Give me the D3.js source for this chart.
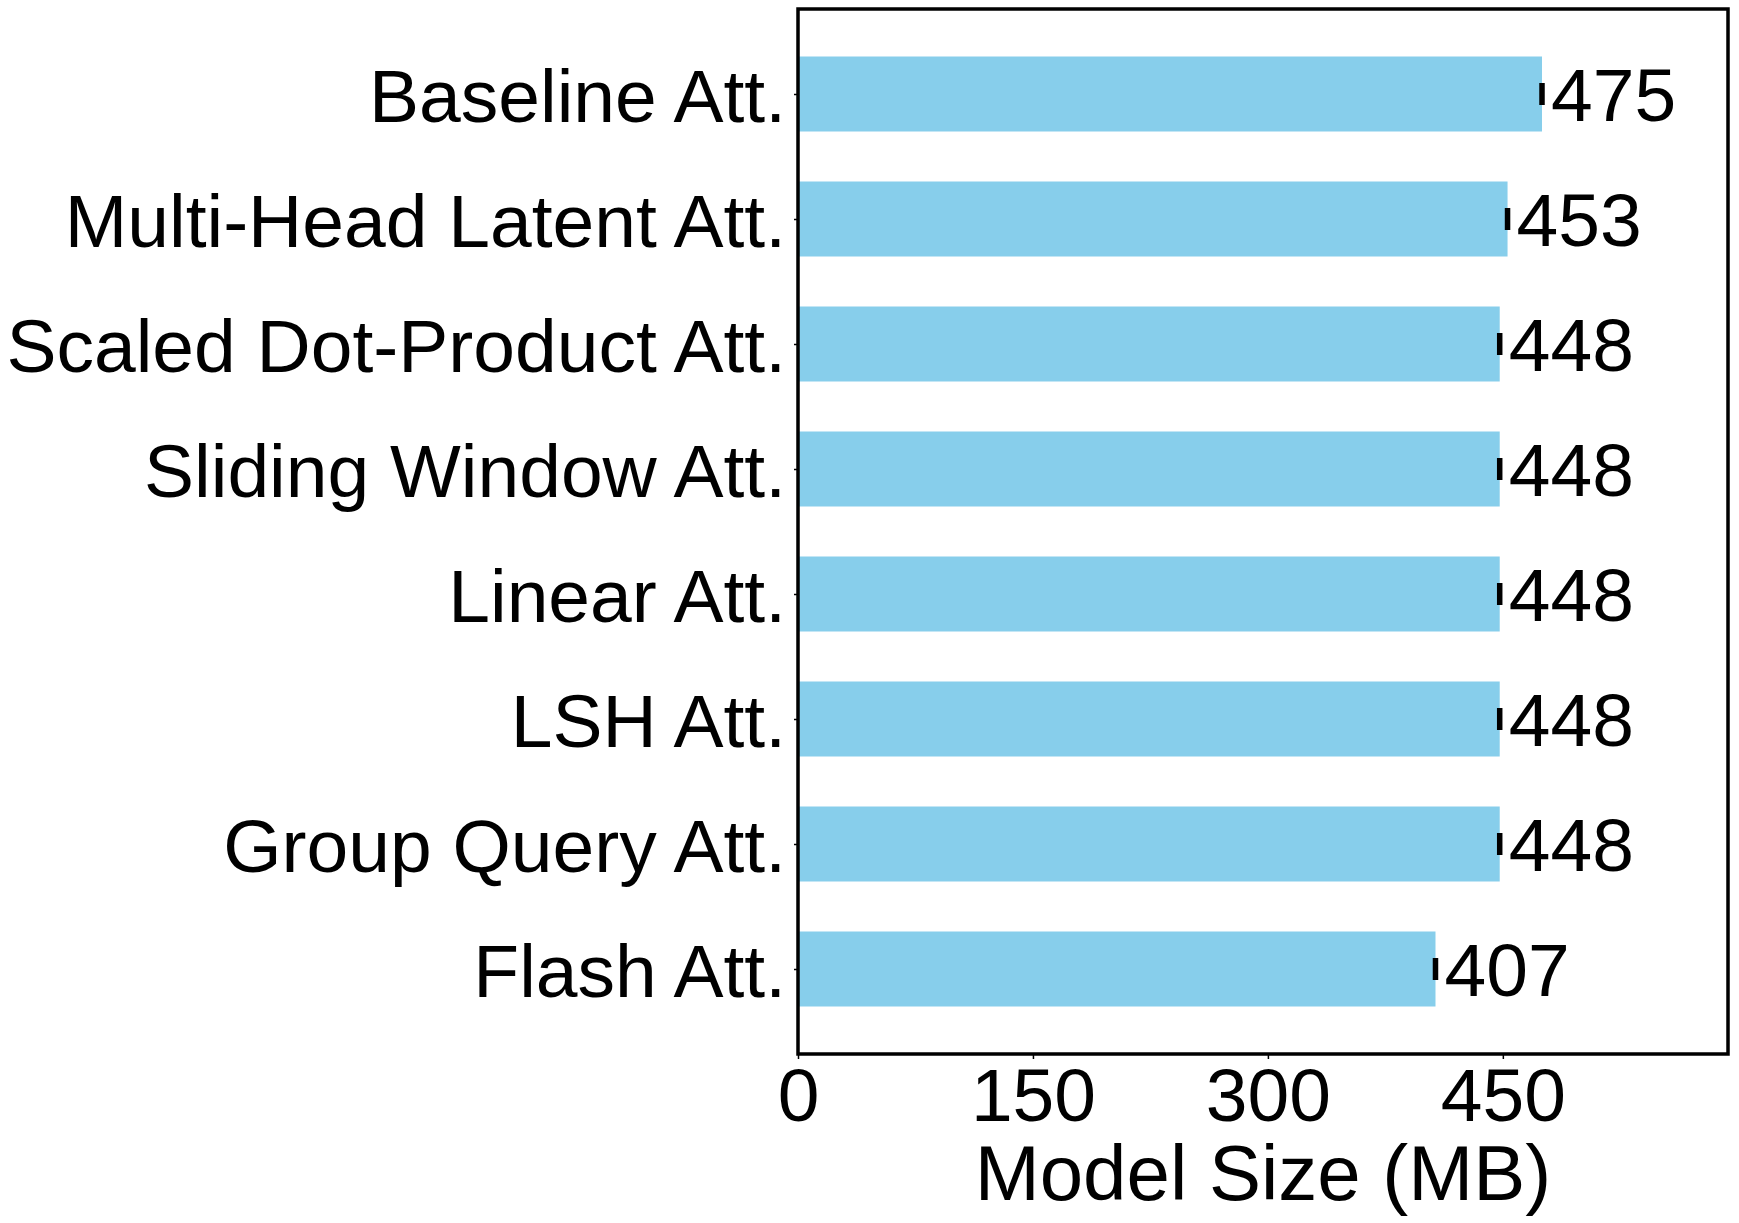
<!DOCTYPE html>
<html>
<head>
<meta charset="utf-8">
<script src="https://cdn.jsdelivr.net/npm/d3@7"></script>
<style>
  body { margin: 0; background: #fff; }
  text { font-family: 'Liberation Sans', Arial, sans-serif; fill: #000; }
</style>
</head>
<body>
<svg id="chart" width="1739" height="1223"></svg>
<script>
// data, listed bottom to top like the original barh call
const methods = [
  'Flash Att.',
  'Group Query Att.',
  'LSH Att.',
  'Linear Att.',
  'Sliding Window Att.',
  'Scaled Dot-Product Att.',
  'Multi-Head Latent Att.',
  'Baseline Att.'
];
const sizes = [407, 448, 448, 448, 448, 448, 453, 475];
const xTicks = [0, 150, 300, 450];
const xLabel = 'Model Size (MB)';

const box = { left: 798, right: 1728, top: 9, bottom: 1054 };
const fontSize = 75;

const svg = d3.select('#chart');
svg.append('rect').attr('width', 1739).attr('height', 1223).attr('fill', '#fff');

const x = d3.scaleLinear()
  .domain([0, d3.max(sizes) * 1.25])
  .range([box.left, box.right]);

// bar i sits at y=i, 0.6 tall, with 5% margins like matplotlib
const y = d3.scaleLinear()
  .domain([-0.68, methods.length - 1 + 0.68])
  .range([box.bottom, box.top]);
const barH = 0.6;

const g = svg.append('g');

g.selectAll('rect.bar')
  .data(sizes)
  .enter()
  .append('rect')
  .attr('class', 'bar')
  .attr('x', x(0))
  .attr('y', (d, i) => y(i + barH / 2))
  .attr('width', (d) => x(d) - x(0))
  .attr('height', y(0) - y(barH))
  .attr('fill', '#87CEEB');

// small error caps at the bar ends
g.selectAll('line.cap')
  .data(sizes)
  .enter()
  .append('line')
  .attr('class', 'cap')
  .attr('x1', (d) => x(d))
  .attr('x2', (d) => x(d))
  .attr('y1', (d, i) => y(i) - 11)
  .attr('y2', (d, i) => y(i) + 11)
  .attr('stroke', '#000')
  .attr('stroke-width', 5.5);

// value labels
g.selectAll('text.val')
  .data(sizes)
  .enter()
  .append('text')
  .attr('class', 'val')
  .attr('x', (d) => x(d) + 9)
  .attr('y', (d, i) => y(i))
  .attr('dy', '0.36em')
  .attr('font-size', fontSize)
  .text((d) => d);

// y axis
const yAxis = d3.axisLeft(y)
  .tickValues(d3.range(methods.length))
  .tickFormat((i) => methods[i])
  .tickSize(4)
  .tickPadding(8);
const yg = svg.append('g')
  .attr('transform', 'translate(' + box.left + ',0)')
  .call(yAxis);
yg.select('.domain').remove();
yg.selectAll('text')
  .attr('font-size', fontSize)
  .attr('font-family', null)
  .attr('dy', '0.36em');
yg.selectAll('line').attr('stroke-width', 1.5);

// x axis
const xAxis = d3.axisBottom(x)
  .tickValues(xTicks)
  .tickSize(5)
  .tickPadding(6);
const xg = svg.append('g')
  .attr('transform', 'translate(0,' + box.bottom + ')')
  .call(xAxis);
xg.select('.domain').remove();
xg.selectAll('text')
  .attr('font-size', fontSize)
  .attr('font-family', null)
  .attr('dy', '0.74em');
xg.selectAll('line').attr('stroke-width', 1.5);

// frame
svg.append('rect')
  .attr('x', box.left)
  .attr('y', box.top)
  .attr('width', box.right - box.left)
  .attr('height', box.bottom - box.top)
  .attr('fill', 'none')
  .attr('stroke', '#000')
  .attr('stroke-width', 3.5);

svg.append('text')
  .attr('x', (box.left + box.right) / 2)
  .attr('y', 1200)
  .attr('text-anchor', 'middle')
  .attr('font-size', 78)
  .text(xLabel);
</script>
</body>
</html>
